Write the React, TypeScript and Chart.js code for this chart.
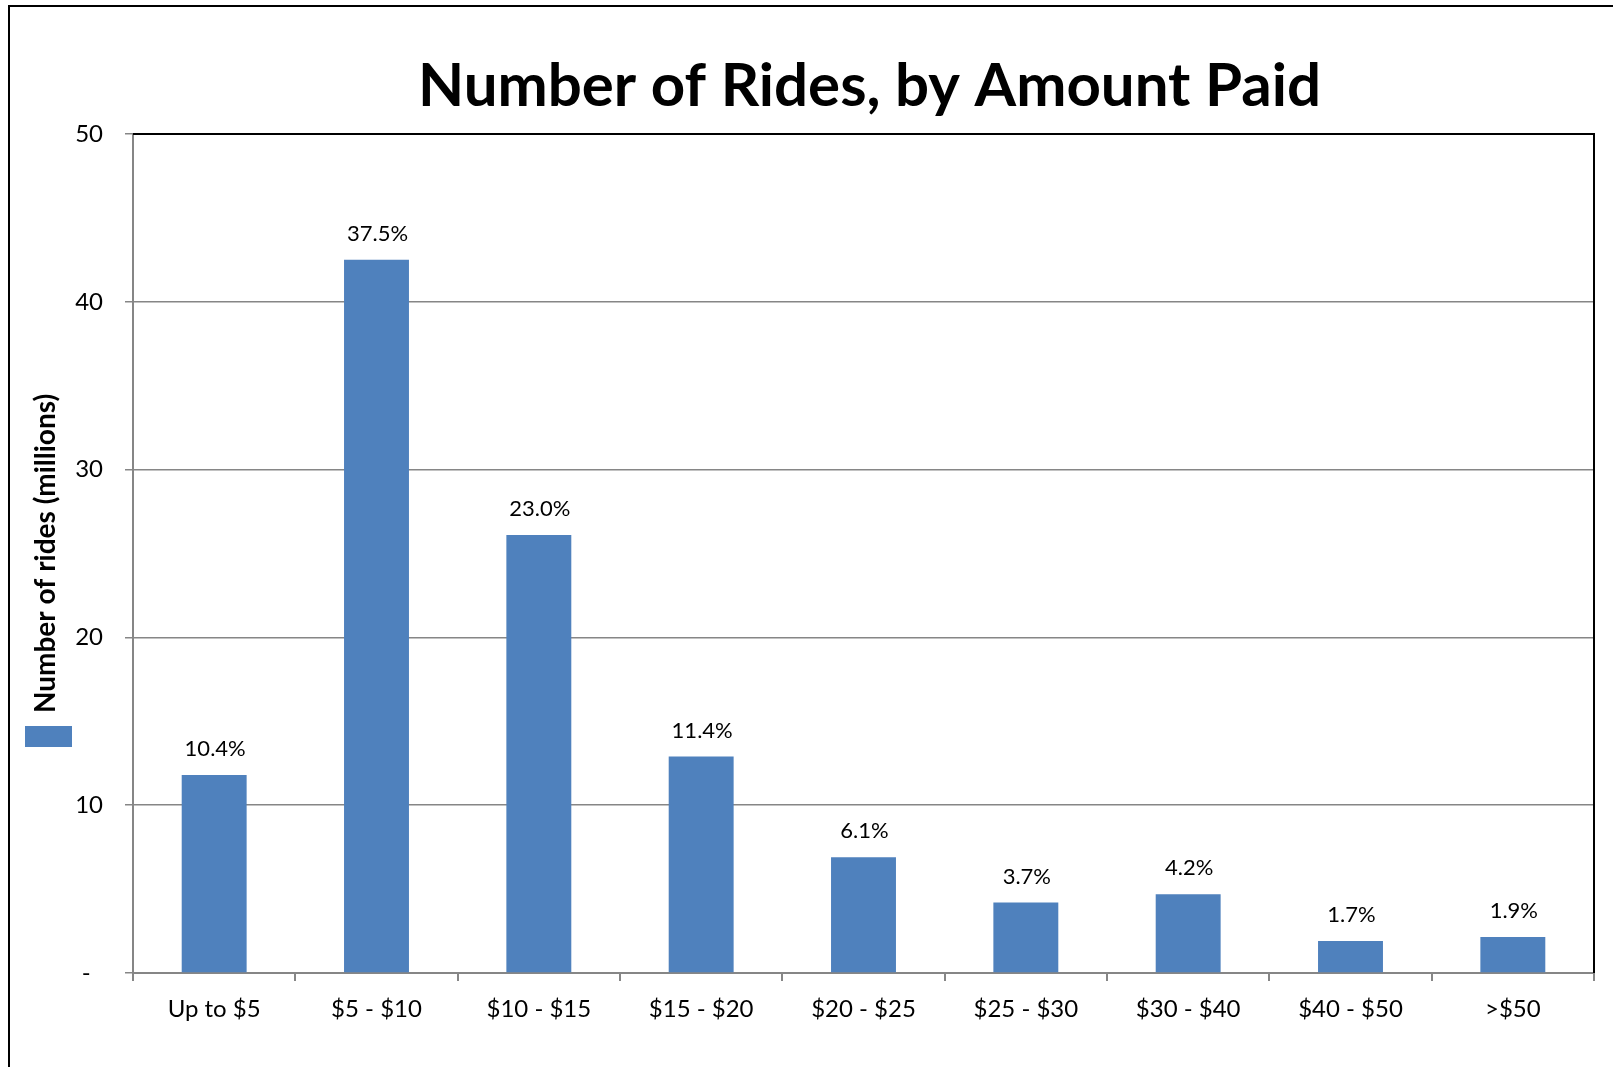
import React, { useEffect, useRef } from 'react';
import { Chart, registerables } from 'chart.js';

Chart.register(...registerables);

const categories = ['Up to $5', '$5 - $10', '$10 - $15', '$15 - $20', '$20 - $25', '$25 - $30', '$30 - $40', '$40 - $50', '>$50'];
const rides = [11.8, 42.5, 26.1, 12.9, 6.9, 4.2, 4.7, 1.9, 2.15];
const shareLabels = ['10.4%', '37.5%', '23.0%', '11.4%', '6.1%', '3.7%', '4.2%', '1.7%', '1.9%'];
const yTickValues = [0, 10, 20, 30, 40, 50];
const chartTitle = 'Number of Rides, by Amount Paid';
const yAxisTitle = 'Number of rides (millions)';
const seriesName = 'Rides';

const BAR_COLOR = '#4F81BD';
const AXIS_GRAY = '#868686';
const FONT = 'Lato, "Open Sans", sans-serif';

const decorPlugin = {
  id: 'decor',
  beforeDraw(chart: any) {
    const { ctx } = chart;
    ctx.save();
    ctx.fillStyle = '#ffffff';
    ctx.fillRect(0, 0, chart.width, chart.height);
    // outer frame (left and top edges visible)
    ctx.strokeStyle = '#000000';
    ctx.lineWidth = 2;
    ctx.beginPath();
    ctx.moveTo(9, chart.height + 5);
    ctx.lineTo(9, 6);
    ctx.lineTo(chart.width + 5, 6);
    ctx.stroke();
    ctx.restore();
  },
  afterDatasetsDraw(chart: any) {
    const { ctx } = chart;
    const meta = chart.getDatasetMeta(0);
    ctx.save();
    ctx.fillStyle = '#000000';
    ctx.font = `22px ${FONT}`;
    ctx.textAlign = 'center';
    ctx.textBaseline = 'alphabetic';
    meta.data.forEach((bar: any, i: number) => {
      ctx.fillText(shareLabels[i], bar.x + 1, bar.y - 19);
    });
    ctx.restore();
  },
  afterDraw(chart: any) {
    const { ctx, chartArea } = chart;
    ctx.save();
    // black top and right borders of plot area
    ctx.strokeStyle = '#000000';
    ctx.lineWidth = 2;
    ctx.beginPath();
    ctx.moveTo(chartArea.left, chartArea.top);
    ctx.lineTo(chartArea.right, chartArea.top);
    ctx.lineTo(chartArea.right, chartArea.bottom);
    ctx.stroke();
    // title
    ctx.fillStyle = '#000000';
    ctx.font = `bold 60px ${FONT}`;
    ctx.textAlign = 'center';
    ctx.textBaseline = 'alphabetic';
    ctx.fillText(chartTitle, (chartArea.left + chartArea.right) / 2 + 6, 106);
    // legend swatch (no label text)
    ctx.fillStyle = chart.data.datasets[0].backgroundColor;
    ctx.fillRect(25, 726, 47, 21);
    ctx.restore();
  },
};

export default function App() {
  const canvasRef = useRef<HTMLCanvasElement | null>(null);

  useEffect(() => {
    const canvas = canvasRef.current;
    if (!canvas) return;
    const chart = new Chart(canvas, {
      type: 'bar',
      data: {
        labels: categories,
        datasets: [
          {
            label: seriesName,
            data: rides,
            backgroundColor: BAR_COLOR,
            borderWidth: 0,
            barPercentage: 0.4,
            categoryPercentage: 1.0,
          },
        ],
      },
      options: {
        responsive: false,
        animation: false,
        devicePixelRatio: 1,
        layout: { padding: { left: 29, top: 134, right: 19, bottom: 0 } },
        plugins: {
          legend: { display: false },
          title: { display: false },
          tooltip: { enabled: false },
        },
        scales: {
          x: {
            offset: true,
            grid: {
              display: true,
              drawOnChartArea: false,
              drawTicks: true,
              tickLength: 8,
              color: AXIS_GRAY,
              lineWidth: 2,
              offset: true,
            },
            border: { display: true, color: AXIS_GRAY, width: 2 },
            ticks: {
              color: '#000000',
              font: { family: FONT, size: 24 },
              padding: 14,
              maxRotation: 0,
              autoSkip: false,
            },
            afterFit(scale: any) {
              scale.height = 94;
            },
          },
          y: {
            min: yTickValues[0],
            max: yTickValues[yTickValues.length - 1],
            grid: {
              color: AXIS_GRAY,
              lineWidth: 1.5,
              drawTicks: true,
              tickLength: 8,
            },
            border: { display: true, color: AXIS_GRAY, width: 2 },
            ticks: {
              stepSize: yTickValues[1] - yTickValues[0],
              color: '#000000',
              font: { family: FONT, size: 24 },
              padding: 22,
              callback: (v: any) => (Number(v) === 0 ? '-  ' : String(v)),
            },
            title: {
              display: true,
              text: yAxisTitle,
              color: '#000000',
              font: { family: FONT, size: 28, weight: 'bold' },
              padding: { top: 0, bottom: 0 },
            },
            afterFit(scale: any) {
              scale.width = 133 - 29;
            },
          },
        },
      },
      plugins: [decorPlugin],
    } as any);
    return () => chart.destroy();
  }, []);

  return (
    <div style={{ position: 'absolute', left: 0, top: 0, width: 1613, height: 1067, overflow: 'hidden' }}>
      <canvas ref={canvasRef} width={1613} height={1067} style={{ display: 'block', width: 1613, height: 1067 }} />
    </div>
  );
}
